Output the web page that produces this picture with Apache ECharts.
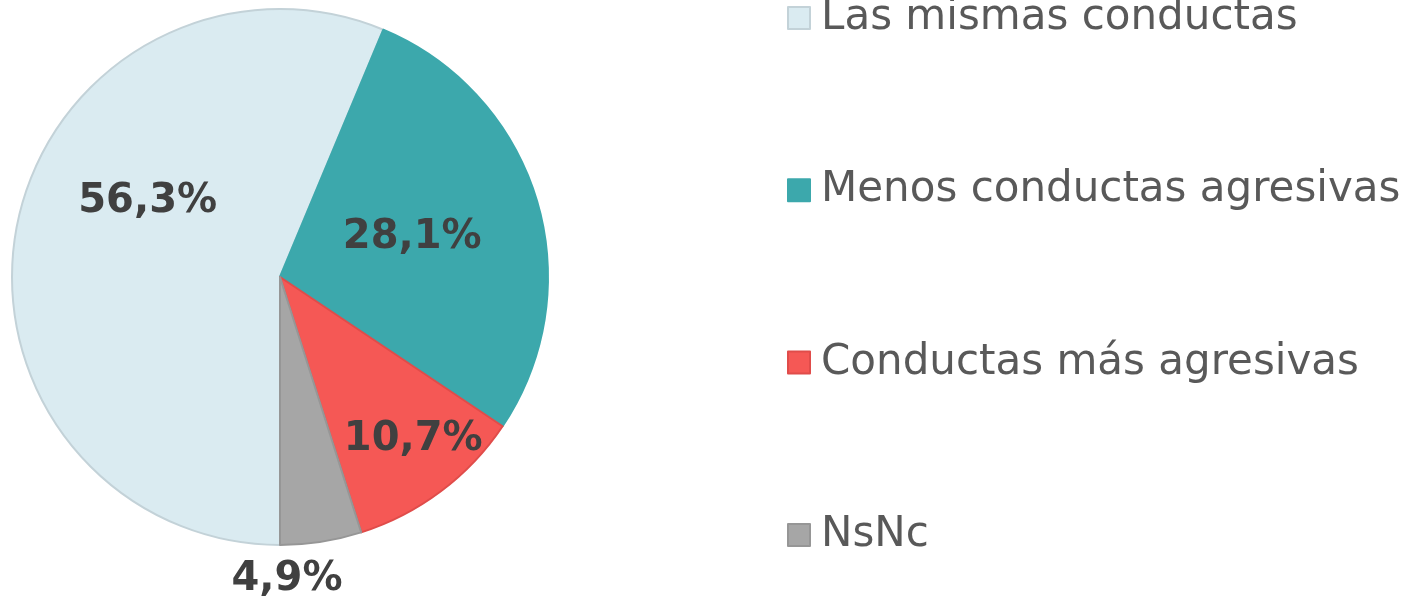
<!DOCTYPE html>
<html>
<head>
<meta charset="utf-8">
<script src="https://cdn.jsdelivr.net/npm/echarts@6/dist/echarts.min.js"></script>
<style>
  html, body { margin: 0; padding: 0; background: #fff; }
  #chart { width: 1421px; height: 599px; }
</style>
</head>
<body>
<div id="chart"></div>
<script>
  // datos del gráfico
  var categories = [
    "Las mismas conductas",
    "Menos conductas agresivas",
    "Conductas más agresivas",
    "NsNc"
  ];
  var values = [56.3, 28.1, 10.7, 4.9];

  var colors = ["#daebf1", "#3ca8ac", "#f55855", "#a6a6a6"];
  var borders = ["#c3d2d8", "#3ca8ac", "#e04c4a", "#969696"];
  // desplazamiento de las etiquetas respecto a la posición "inside"
  var labelShift = [[2, -48], [1, 0], [51, 53], [-14, 167]];

  var chart = echarts.init(document.getElementById("chart"));

  var data = categories.map(function(name, i) {
    return {
      name: name,
      value: values[i],
      itemStyle: { color: colors[i], borderColor: borders[i] }
    };
  });

  chart.setOption({
    animation: false,
    legend: {
      orient: "vertical",
      left: 787,
      top: -3,
      padding: 0,
      itemWidth: 22,
      itemHeight: 22,
      itemGap: 130.3,
      icon: "rect",
      data: categories,
      textStyle: {
        fontFamily: "DejaVu Sans",
        fontSize: 42,
        color: "#595959",
        lineHeight: 42,
        padding: [0, 0, 0, 6]
      }
    },
    series: [
      {
        type: "pie",
        center: [280, 277],
        radius: 268,
        startAngle: -90,
        clockwise: true,
        data: data,
        itemStyle: { borderWidth: 2 },
        label: {
          show: true,
          position: "inside",
          formatter: function(p) {
            return p.value.toFixed(1).replace(".", ",") + "%";
          },
          fontFamily: "DejaVu Sans",
          fontWeight: "bold",
          fontSize: 40,
          color: "#404040"
        },
        labelLine: { show: false },
        labelLayout: function(p) {
          var s = labelShift[p.dataIndex];
          return { dx: s[0], dy: s[1] };
        },
        emphasis: { disabled: true }
      }
    ]
  });
</script>
</body>
</html>
